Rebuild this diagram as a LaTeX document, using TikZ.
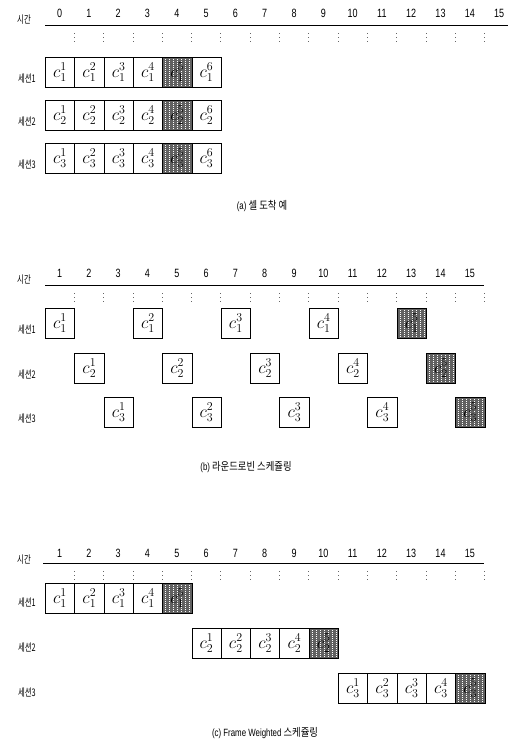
\documentclass[tikz,border=0pt]{standalone}
\usepackage{fontspec}
\setmainfont{Liberation Sans}
\newfontfamily\kr{Noto Sans CJK KR}[FakeStretch=0.7]
\newfontfamily\krcap{Noto Sans CJK KR}[FakeStretch=0.85]
\newfontfamily\num{Liberation Sans}[FakeStretch=0.75]
\begin{document}
\begin{tikzpicture}[x=1pt,y=-1pt,
  cell/.style={draw=black, line width=0.7pt, minimum width=29.3pt, minimum height=30pt,
    inner sep=0pt, anchor=north west, font=\LARGE},
  busy/.style={cell, fill=black!62,
    path picture={\foreach \dx in {3,7,...,27}{\draw[white, line width=0.8pt, dash pattern=on 0.8pt off 1.2pt]
      ([xshift=\dx pt]path picture bounding box.south west) -- ([xshift=\dx pt]path picture bounding box.north west);}}},
  tlabel/.style={font=\num\fontsize{12}{12}\selectfont, inner sep=0pt},
  rowlabel/.style={font=\kr\fontsize{10.5}{10.5}\selectfont, inner sep=0pt},
  caption/.style={font=\krcap\fontsize{11}{11}\selectfont, inner sep=0pt},
  axisline/.style={line width=0.8pt},
  tickline/.style={line width=0.7pt, dash pattern=on 1pt off 3pt, black!60}]
\useasboundingbox (0,0) rectangle (513,750);

% ---------------- panel (a) ----------------
\node[rowlabel] (ta) at (24,20) {시간};
\foreach \k in {0,...,15} \node[tlabel] (la\k) at ({59.6+29.3*\k},13) {\k};
\coordinate (aL) at (45,25); \coordinate (aR) at (508,25);
\draw[axisline] (aL) -- (aR);
\foreach \j in {0,...,14} \draw[tickline] ({74.3+29.3*\j},33) -- ({74.3+29.3*\j},43);
\foreach \r/\y in {1/57,2/100,3/143}{
  \node[rowlabel] (ra\r) at (27,\y+22) {세션\r};
  \foreach \j in {0,...,5}{
    \pgfmathtruncatemacro\s{\j+1}
    \ifnum\j=4
      \node[busy] (a\r-\s) at ({45+29.3*\j},\y) {$c_{\r}^{\s}$};
    \else
      \node[cell] (a\r-\s) at ({45+29.3*\j},\y) {$c_{\r}^{\s}$};
    \fi
  }
}
\node[caption] (capa) at (262,206) {{\num\fontsize{10.5}{10.5}\selectfont(a)} 셀 도착 예};

% ---------------- panel (b) ----------------
\node[rowlabel] (tb) at (24,280) {시간};
\foreach \k in {1,...,15} \node[tlabel] (lb\k) at ({59.6+29.3*(\k-1)},273) {\k};
\coordinate (bL) at (45,285); \coordinate (bR) at (484,285);
\draw[axisline] (bL) -- (bR);
\foreach \j in {0,...,14} \draw[tickline] ({74.3+29.3*\j},293) -- ({74.3+29.3*\j},303);
\foreach \r/\y in {1/308,2/353,3/397}{
  \node[rowlabel] (rb\r) at (27,\y+22) {세션\r};
  \foreach \m in {1,...,5}{
    \pgfmathtruncatemacro\j{\r-1+3*(\m-1)}
    \ifnum\m=5
      \node[busy] (b\r-\m) at ({45+29.3*\j},\y) {$c_{\r}^{\m}$};
    \else
      \node[cell] (b\r-\m) at ({45+29.3*\j},\y) {$c_{\r}^{\m}$};
    \fi
  }
}
\node[caption] (capb) at (246,467) {{\num\fontsize{10.5}{10.5}\selectfont(b)} 라운드로빈 스케쥴링};

% ---------------- panel (c) ----------------
\node[rowlabel] (tc) at (24,560) {시간};
\foreach \k in {1,...,15} \node[tlabel] (lc\k) at ({59.6+29.3*(\k-1)},553) {\k};
\coordinate (cL) at (43,563); \coordinate (cR) at (484,563);
\draw[axisline] (cL) -- (cR);
\foreach \j in {0,...,14} \draw[tickline] ({74.3+29.3*\j},571) -- ({74.3+29.3*\j},581);
\foreach \r/\y in {1/583,2/628,3/673}{
  \node[rowlabel] (rc\r) at (27,\y+20) {세션\r};
  \foreach \m in {1,...,5}{
    \pgfmathtruncatemacro\j{5*(\r-1)+\m-1}
    \ifnum\m=5
      \node[busy] (c\r-\m) at ({45+29.3*\j},\y) {$c_{\r}^{\m}$};
    \else
      \node[cell] (c\r-\m) at ({45+29.3*\j},\y) {$c_{\r}^{\m}$};
    \fi
  }
}
\node[caption] (capc) at (265,733) {{\num\fontsize{10.5}{10.5}\selectfont(c) Frame Weighted} 스케쥴링};
\end{tikzpicture}
\end{document}
